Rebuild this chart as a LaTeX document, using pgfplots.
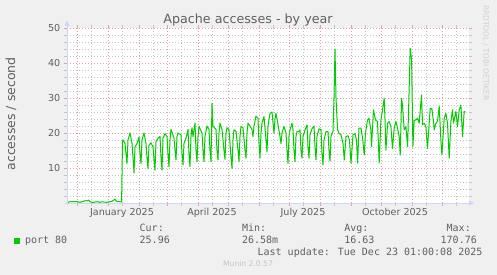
\documentclass[border=0pt]{standalone}
\usepackage{fontspec}
\setmainfont{DejaVu Sans}
\newfontfamily\monofont{DejaVu Sans Mono}
\usepackage{pgfplots}
\pgfplotsset{compat=1.18}
\definecolor{bg}{HTML}{F0F0F0}
\definecolor{fontc}{HTML}{606060}
\definecolor{axisc}{HTML}{CFD6F8}
\definecolor{mgrid}{HTML}{E4A0A0}
\definecolor{gridc}{HTML}{C4C4C4}
\definecolor{munin}{HTML}{00CC00}
\definecolor{wm}{HTML}{C4C4C4}
\definecolor{rrdc}{HTML}{D0D0D0}
\begin{document}
\begin{tikzpicture}[x=1pt,y=1pt]
\fill[bg] (0,0) rectangle (497,-275);
\begin{axis}[
  at={(67pt,-203pt)}, anchor=south west,
  width=402pt, height=175pt, scale only axis,
  xmin=-41, xmax=361, ymin=0, ymax=50,
  axis line style={draw=none},
  axis background/.style={fill=white},
  xtick={-31,0,31,59,90,120,151,181,212,243,273,304,334},
  xticklabels={},
  minor xtick={-17,14,45,73,104,134,165,195,226,257,287,318,348},
  extra x ticks={14,104,195,287},
  extra x tick labels={January 2025,April 2025,July 2025,October 2025},
  extra x tick style={grid=none, major tick style={draw=none}},
  ytick={10,20,30,40,50},
  minor ytick={2,4,6,8,12,14,16,18,22,24,26,28,32,34,36,38,42,44,46,48},
  grid=both,
  major grid style={mgrid, dash pattern=on 1pt off 2pt, line width=0.8pt},
  minor grid style={gridc, dash pattern=on 1pt off 2pt, line width=0.8pt},
  tick align=outside,
  major tick length=3pt, minor tick length=3pt,
  major tick style={draw=mgrid, line width=0.7pt},
  minor tick style={draw=gridc, line width=0.7pt},
  ticklabel style={font=\fontsize{9.6}{11}\selectfont, text=fontc, inner sep=0pt},
  /pgf/number format/assume math mode=true,
  xticklabel shift=2.5pt,
  yticklabel shift=3.5pt,
  ylabel={accesses / second},
  ylabel style={font=\fontsize{12.5}{14}\selectfont, text=fontc, at={(axis description cs:-0.1393,0.509)}, anchor=center},
  legend style={draw=none, fill=none, at={(axis description cs:-0.1318,-0.2154)}, anchor=west, inner sep=0pt, outer sep=0pt, column sep=5pt,
    nodes={inner sep=0pt, text=fontc, font=\monofont\fontsize{10}{12}\selectfont}},
  legend image code/.code={\fill[#1,draw=none] (0pt,-3pt) rectangle (6pt,3pt);},
]
\addplot[munin, line width=1pt, line join=round] table {
x y
-41 0.10
-38 0.37
-36 0.35
-33 0.40
-31 0.37
-28 0.20
-25 0.45
-23 0.66
-21 0.60
-19.5 0.86
-18 0.37
-15 0.10
-13 0.30
-11 0.37
-8 0.20
-6 0.35
-4.5 0.29
-1.3 0.20
0.5 0.30
2 0.37
4 0.50
5.3 0.77
7 1.05
8.6 0.50
10.2 0.37
12 0.37
13.6 0.29
14.5 17.5
15 18
16 17.5
17 17
18 14
19 11.3
20 18
22 20
24 17
25 13
26 8.6
27 16
29 17
31 18.8
32 14
33 11.3
34 18
36 20
38 17
39 13
40 9.9
41 16.5
43 17.2
45 16
46 12.5
47 9.4
48 17.5
50 18.5
52 19
53 13
54 9.4
55 18.5
57 19.8
59 19
60 14
61 10.4
62 18
63 21
66 18.6
67 15
68 12.3
69 19
70 20
73 19.5
74 14
75 10.9
76 17
78 18.5
80 21
81 14
82 10.4
83 19
84 21.5
85 19
87 22.8
88 15
89 11.8
90 19
91 21.9
94 20
95 15
96 11.8
97 19
99 22
101 21
102 15
103 11.8
104 28.5
105 22
108 21
109 15
110 12.3
111 20
112 22.8
114 21
116 15
117 12.5
118 20
119 21.5
121 21
123 13
124 9.9
125 18
126 20.9
128 20.5
130 15
131 11.8
132 19
133 21.9
135 21.5
137 15
138 12.8
139 20
140 22.8
142 22
144 21
145 19
146 22
148 24.8
150 24.2
151 17
152 12.8
153 20
154 22.8
156 24.7
158 18
159 14.7
160 22
162 25.6
164 26
165 23
166 20
167 24
168 25.6
170 22.4
172 19
173 17
174 20
176 21.9
178 20
179 15
180 11.3
181 19
182 20.9
184 22.8
185 20.9
186 15
187 11.8
188 19
189 20.4
191 20.4
192 20.9
193 15
194 12.8
195 19
197 20.9
199 22.3
200 16
201 12.8
202 19.5
204 21.2
206 22
207 16
208 12.3
209 19
211 21.2
213 21
214 14
215 10.9
216 18
218 20.4
220 20.4
221 15
222 12
223 19
225 20.5
226 30
227 44
228 30
229.6 20.9
231 19.9
233 19.5
235 17
236.3 12.3
238 19
240 19.2
241.5 18
243 11.4
245 19.5
247 19.8
248.5 18
249.6 11.4
251 21.4
253 21.4
254.8 18
256.2 13.7
257.5 20
259.5 23.7
261 24.2
262.9 20.9
263.5 16.1
265.5 26.6
267.5 23.7
269.5 23.3
271.2 11.4
272.9 23.7
274.5 26.6
276.2 29.9
277 23.9
277.9 15.1
279.6 22.8
281.2 23.3
282.9 21.8
284.5 15.6
286.2 21.4
287.9 23.3
289.5 21.4
291.2 19
292.2 13.7
293.6 29.9
294.5 28
296.2 20.9
297.9 21.8
299.6 16.1
301.2 33.2
302.2 44.2
303.6 40.9
304.9 16.1
306.2 23.7
307.9 23.7
309.5 24.2
311.2 22.8
313.5 30.9
314.5 22.4
316.2 22.8
317.9 21.8
319.5 15.6
322.2 27
323.8 27
325.5 23.3
326.2 20.9
327.9 22.8
329.5 23.3
331.2 27.6
332.9 18
333.9 13.7
336.2 24.2
337.9 25.6
339.5 22.8
341.2 12.8
342.9 23.3
344.5 26.6
345.5 22.8
347.9 26.2
349.5 21.8
350.2 23.7
351.2 26.6
352.9 28
354.5 19
356.2 26.2
357.2 25.96
};
\addlegendentry{port 80}
\end{axis}
\draw[axisc, line width=0.9pt] (65,-203) -- (470,-203);
\fill[axisc] (469,-200.5) -- (474.5,-203) -- (469,-205.5) -- cycle;
\draw[axisc, line width=0.9pt] (67,-205) -- (67,-26);
\fill[axisc] (64.5,-26) -- (67,-20.5) -- (69.5,-26) -- cycle;
\node[anchor=base, inner sep=0pt, font=\fontsize{12.7}{15}\selectfont, text=fontc] at (248,-24) {Apache accesses - by year};
\begin{scope}[every node/.style={anchor=base west, inner sep=0pt, font=\monofont\fontsize{10}{12}\selectfont, text=fontc}]
\node at (139.5,-231.3) {Cur:};
\node at (241.8,-231.3) {Min:};
\node at (344.2,-231.3) {Avg:};
\node at (446.5,-231.3) {Max:};
\node at (139.5,-243.3) {25.96};
\node at (241.8,-243.3) {26.58m};
\node at (344.2,-243.3) {16.63};
\node at (440.5,-243.3) {170.76};
\node[anchor=base east] at (482.6,-255) {Last update: Tue Dec 23 01:00:08 2025};
\end{scope}
\node[anchor=base, inner sep=0pt, font=\fontsize{7.6}{9}\selectfont, text=wm] at (248,-266.3) {Munin 2.0.57};
\node[rotate=-90, anchor=west, inner sep=0pt, font=\fontsize{7.4}{9}\selectfont, text=rrdc] at (485.7,-5) {RRDTOOL / TOBI OETIKER};
\end{tikzpicture}
\end{document}
